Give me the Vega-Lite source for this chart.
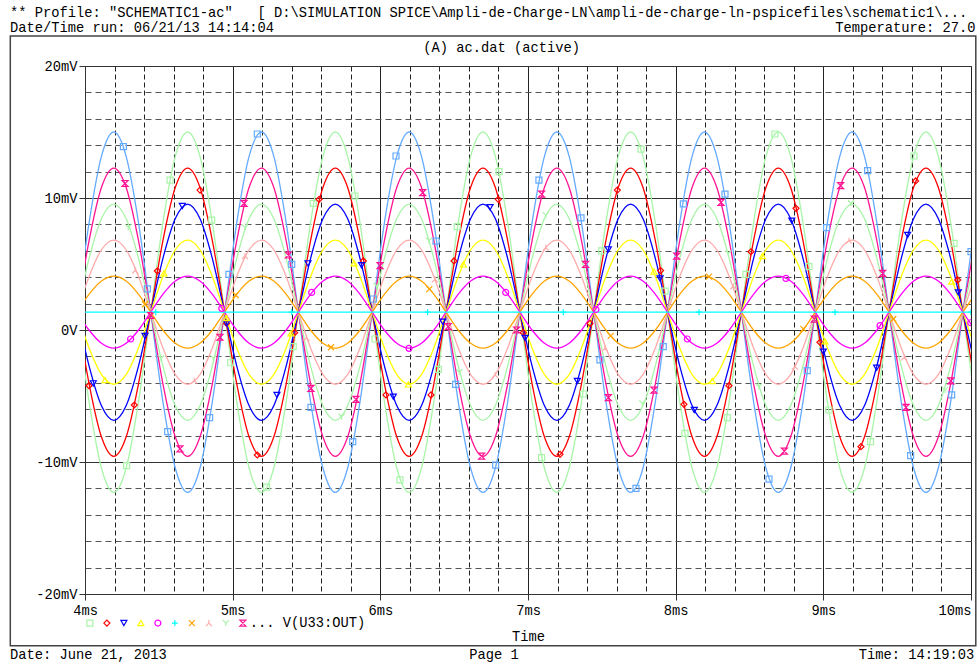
{
  "$schema": "https://vega.github.io/schema/vega-lite/v6.json",
  "width": 886,
  "height": 528,
  "autosize": {"type": "none"},
  "padding": {"left": 85, "top": 66, "right": 7, "bottom": 69},
  "background": "white",
  "config": {
    "font": "Liberation Mono",
    "view": {"stroke": "#333", "strokeWidth": 1},
    "axis": {
      "labelFont": "Liberation Mono",
      "labelFontSize": 13.75,
      "labelColor": "#000",
      "titleFont": "Liberation Mono",
      "titleFontSize": 13.75,
      "titleFontWeight": "normal",
      "titleColor": "#000",
      "domainColor": "#333",
      "labelOverlap": false
    },
    "legend": {
      "labelFont": "Liberation Mono",
      "labelFontSize": 13.75,
      "labelColor": "#000"
    },
    "text": {"font": "Liberation Mono", "fontSize": 13.75, "color": "#000"}
  },
  "resolve": {"axis": {"x": "independent", "y": "independent"}},
  "datasets": {
    "wave": [
      {"t": 3.945, "lb": 1.35, "lg1": 1.35, "rd": 1.35, "dp": 1.35, "lg2": 1.35, "bl": 1.35, "ye": 1.35, "sa": 1.35, "or": 1.35, "mg": 1.35, "cy": 1.35},
      {"t": 4.0283, "lb": 8.18, "lg1": -5.48, "rd": -4.11, "dp": 6.81, "lg2": 5.45, "bl": -2.75, "ye": -1.38, "sa": 4.08, "or": 2.72, "mg": -0.02, "cy": 1.35},
      {"t": 4.1117, "lb": 13.17, "lg1": -10.47, "rd": -8.11, "dp": 10.81, "lg2": 8.44, "bl": -5.74, "ye": -3.38, "sa": 6.08, "or": 3.71, "mg": -1.01, "cy": 1.35},
      {"t": 4.195, "lb": 15, "lg1": -12.3, "rd": -9.57, "dp": 12.27, "lg2": 9.54, "bl": -6.84, "ye": -4.11, "sa": 6.81, "or": 4.08, "mg": -1.38, "cy": 1.35},
      {"t": 4.2783, "lb": 13.17, "lg1": -10.47, "rd": -8.11, "dp": 10.81, "lg2": 8.44, "bl": -5.74, "ye": -3.38, "sa": 6.08, "or": 3.71, "mg": -1.01, "cy": 1.35},
      {"t": 4.3617, "lb": 8.18, "lg1": -5.48, "rd": -4.11, "dp": 6.81, "lg2": 5.45, "bl": -2.75, "ye": -1.38, "sa": 4.08, "or": 2.72, "mg": -0.02, "cy": 1.35},
      {"t": 4.445, "lb": 1.35, "lg1": 1.35, "rd": 1.35, "dp": 1.35, "lg2": 1.35, "bl": 1.35, "ye": 1.35, "sa": 1.35, "or": 1.35, "mg": 1.35, "cy": 1.35},
      {"t": 4.5283, "lb": -5.48, "lg1": 8.18, "rd": 6.81, "dp": -4.11, "lg2": -2.75, "bl": 5.45, "ye": 4.08, "sa": -1.38, "or": -0.02, "mg": 2.72, "cy": 1.35},
      {"t": 4.6117, "lb": -10.47, "lg1": 13.17, "rd": 10.81, "dp": -8.11, "lg2": -5.74, "bl": 8.44, "ye": 6.08, "sa": -3.38, "or": -1.01, "mg": 3.71, "cy": 1.35},
      {"t": 4.695, "lb": -12.3, "lg1": 15, "rd": 12.27, "dp": -9.57, "lg2": -6.84, "bl": 9.54, "ye": 6.81, "sa": -4.11, "or": -1.38, "mg": 4.08, "cy": 1.35},
      {"t": 4.7783, "lb": -10.47, "lg1": 13.17, "rd": 10.81, "dp": -8.11, "lg2": -5.74, "bl": 8.44, "ye": 6.08, "sa": -3.38, "or": -1.01, "mg": 3.71, "cy": 1.35},
      {"t": 4.8617, "lb": -5.48, "lg1": 8.18, "rd": 6.81, "dp": -4.11, "lg2": -2.75, "bl": 5.45, "ye": 4.08, "sa": -1.38, "or": -0.02, "mg": 2.72, "cy": 1.35},
      {"t": 4.945, "lb": 1.35, "lg1": 1.35, "rd": 1.35, "dp": 1.35, "lg2": 1.35, "bl": 1.35, "ye": 1.35, "sa": 1.35, "or": 1.35, "mg": 1.35, "cy": 1.35},
      {"t": 5.0283, "lb": 8.18, "lg1": -5.48, "rd": -4.11, "dp": 6.81, "lg2": 5.45, "bl": -2.75, "ye": -1.38, "sa": 4.08, "or": 2.72, "mg": -0.02, "cy": 1.35},
      {"t": 5.1117, "lb": 13.17, "lg1": -10.47, "rd": -8.11, "dp": 10.81, "lg2": 8.44, "bl": -5.74, "ye": -3.38, "sa": 6.08, "or": 3.71, "mg": -1.01, "cy": 1.35},
      {"t": 5.195, "lb": 15, "lg1": -12.3, "rd": -9.57, "dp": 12.27, "lg2": 9.54, "bl": -6.84, "ye": -4.11, "sa": 6.81, "or": 4.08, "mg": -1.38, "cy": 1.35},
      {"t": 5.2783, "lb": 13.17, "lg1": -10.47, "rd": -8.11, "dp": 10.81, "lg2": 8.44, "bl": -5.74, "ye": -3.38, "sa": 6.08, "or": 3.71, "mg": -1.01, "cy": 1.35},
      {"t": 5.3617, "lb": 8.18, "lg1": -5.48, "rd": -4.11, "dp": 6.81, "lg2": 5.45, "bl": -2.75, "ye": -1.38, "sa": 4.08, "or": 2.72, "mg": -0.02, "cy": 1.35},
      {"t": 5.445, "lb": 1.35, "lg1": 1.35, "rd": 1.35, "dp": 1.35, "lg2": 1.35, "bl": 1.35, "ye": 1.35, "sa": 1.35, "or": 1.35, "mg": 1.35, "cy": 1.35},
      {"t": 5.5283, "lb": -5.48, "lg1": 8.18, "rd": 6.81, "dp": -4.11, "lg2": -2.75, "bl": 5.45, "ye": 4.08, "sa": -1.38, "or": -0.02, "mg": 2.72, "cy": 1.35},
      {"t": 5.6117, "lb": -10.47, "lg1": 13.17, "rd": 10.81, "dp": -8.11, "lg2": -5.74, "bl": 8.44, "ye": 6.08, "sa": -3.38, "or": -1.01, "mg": 3.71, "cy": 1.35},
      {"t": 5.695, "lb": -12.3, "lg1": 15, "rd": 12.27, "dp": -9.57, "lg2": -6.84, "bl": 9.54, "ye": 6.81, "sa": -4.11, "or": -1.38, "mg": 4.08, "cy": 1.35},
      {"t": 5.7783, "lb": -10.47, "lg1": 13.17, "rd": 10.81, "dp": -8.11, "lg2": -5.74, "bl": 8.44, "ye": 6.08, "sa": -3.38, "or": -1.01, "mg": 3.71, "cy": 1.35},
      {"t": 5.8617, "lb": -5.48, "lg1": 8.18, "rd": 6.81, "dp": -4.11, "lg2": -2.75, "bl": 5.45, "ye": 4.08, "sa": -1.38, "or": -0.02, "mg": 2.72, "cy": 1.35},
      {"t": 5.945, "lb": 1.35, "lg1": 1.35, "rd": 1.35, "dp": 1.35, "lg2": 1.35, "bl": 1.35, "ye": 1.35, "sa": 1.35, "or": 1.35, "mg": 1.35, "cy": 1.35},
      {"t": 6.0283, "lb": 8.18, "lg1": -5.48, "rd": -4.11, "dp": 6.81, "lg2": 5.45, "bl": -2.75, "ye": -1.38, "sa": 4.08, "or": 2.72, "mg": -0.02, "cy": 1.35},
      {"t": 6.1117, "lb": 13.17, "lg1": -10.47, "rd": -8.11, "dp": 10.81, "lg2": 8.44, "bl": -5.74, "ye": -3.38, "sa": 6.08, "or": 3.71, "mg": -1.01, "cy": 1.35},
      {"t": 6.195, "lb": 15, "lg1": -12.3, "rd": -9.57, "dp": 12.27, "lg2": 9.54, "bl": -6.84, "ye": -4.11, "sa": 6.81, "or": 4.08, "mg": -1.38, "cy": 1.35},
      {"t": 6.2783, "lb": 13.17, "lg1": -10.47, "rd": -8.11, "dp": 10.81, "lg2": 8.44, "bl": -5.74, "ye": -3.38, "sa": 6.08, "or": 3.71, "mg": -1.01, "cy": 1.35},
      {"t": 6.3617, "lb": 8.18, "lg1": -5.48, "rd": -4.11, "dp": 6.81, "lg2": 5.45, "bl": -2.75, "ye": -1.38, "sa": 4.08, "or": 2.72, "mg": -0.02, "cy": 1.35},
      {"t": 6.445, "lb": 1.35, "lg1": 1.35, "rd": 1.35, "dp": 1.35, "lg2": 1.35, "bl": 1.35, "ye": 1.35, "sa": 1.35, "or": 1.35, "mg": 1.35, "cy": 1.35},
      {"t": 6.5283, "lb": -5.48, "lg1": 8.18, "rd": 6.81, "dp": -4.11, "lg2": -2.75, "bl": 5.45, "ye": 4.08, "sa": -1.38, "or": -0.02, "mg": 2.72, "cy": 1.35},
      {"t": 6.6117, "lb": -10.47, "lg1": 13.17, "rd": 10.81, "dp": -8.11, "lg2": -5.74, "bl": 8.44, "ye": 6.08, "sa": -3.38, "or": -1.01, "mg": 3.71, "cy": 1.35},
      {"t": 6.695, "lb": -12.3, "lg1": 15, "rd": 12.27, "dp": -9.57, "lg2": -6.84, "bl": 9.54, "ye": 6.81, "sa": -4.11, "or": -1.38, "mg": 4.08, "cy": 1.35},
      {"t": 6.7783, "lb": -10.47, "lg1": 13.17, "rd": 10.81, "dp": -8.11, "lg2": -5.74, "bl": 8.44, "ye": 6.08, "sa": -3.38, "or": -1.01, "mg": 3.71, "cy": 1.35},
      {"t": 6.8617, "lb": -5.48, "lg1": 8.18, "rd": 6.81, "dp": -4.11, "lg2": -2.75, "bl": 5.45, "ye": 4.08, "sa": -1.38, "or": -0.02, "mg": 2.72, "cy": 1.35},
      {"t": 6.945, "lb": 1.35, "lg1": 1.35, "rd": 1.35, "dp": 1.35, "lg2": 1.35, "bl": 1.35, "ye": 1.35, "sa": 1.35, "or": 1.35, "mg": 1.35, "cy": 1.35},
      {"t": 7.0283, "lb": 8.18, "lg1": -5.48, "rd": -4.11, "dp": 6.81, "lg2": 5.45, "bl": -2.75, "ye": -1.38, "sa": 4.08, "or": 2.72, "mg": -0.02, "cy": 1.35},
      {"t": 7.1117, "lb": 13.17, "lg1": -10.47, "rd": -8.11, "dp": 10.81, "lg2": 8.44, "bl": -5.74, "ye": -3.38, "sa": 6.08, "or": 3.71, "mg": -1.01, "cy": 1.35},
      {"t": 7.195, "lb": 15, "lg1": -12.3, "rd": -9.57, "dp": 12.27, "lg2": 9.54, "bl": -6.84, "ye": -4.11, "sa": 6.81, "or": 4.08, "mg": -1.38, "cy": 1.35},
      {"t": 7.2783, "lb": 13.17, "lg1": -10.47, "rd": -8.11, "dp": 10.81, "lg2": 8.44, "bl": -5.74, "ye": -3.38, "sa": 6.08, "or": 3.71, "mg": -1.01, "cy": 1.35},
      {"t": 7.3617, "lb": 8.18, "lg1": -5.48, "rd": -4.11, "dp": 6.81, "lg2": 5.45, "bl": -2.75, "ye": -1.38, "sa": 4.08, "or": 2.72, "mg": -0.02, "cy": 1.35},
      {"t": 7.445, "lb": 1.35, "lg1": 1.35, "rd": 1.35, "dp": 1.35, "lg2": 1.35, "bl": 1.35, "ye": 1.35, "sa": 1.35, "or": 1.35, "mg": 1.35, "cy": 1.35},
      {"t": 7.5283, "lb": -5.48, "lg1": 8.18, "rd": 6.81, "dp": -4.11, "lg2": -2.75, "bl": 5.45, "ye": 4.08, "sa": -1.38, "or": -0.02, "mg": 2.72, "cy": 1.35},
      {"t": 7.6117, "lb": -10.47, "lg1": 13.17, "rd": 10.81, "dp": -8.11, "lg2": -5.74, "bl": 8.44, "ye": 6.08, "sa": -3.38, "or": -1.01, "mg": 3.71, "cy": 1.35},
      {"t": 7.695, "lb": -12.3, "lg1": 15, "rd": 12.27, "dp": -9.57, "lg2": -6.84, "bl": 9.54, "ye": 6.81, "sa": -4.11, "or": -1.38, "mg": 4.08, "cy": 1.35},
      {"t": 7.7783, "lb": -10.47, "lg1": 13.17, "rd": 10.81, "dp": -8.11, "lg2": -5.74, "bl": 8.44, "ye": 6.08, "sa": -3.38, "or": -1.01, "mg": 3.71, "cy": 1.35},
      {"t": 7.8617, "lb": -5.48, "lg1": 8.18, "rd": 6.81, "dp": -4.11, "lg2": -2.75, "bl": 5.45, "ye": 4.08, "sa": -1.38, "or": -0.02, "mg": 2.72, "cy": 1.35},
      {"t": 7.945, "lb": 1.35, "lg1": 1.35, "rd": 1.35, "dp": 1.35, "lg2": 1.35, "bl": 1.35, "ye": 1.35, "sa": 1.35, "or": 1.35, "mg": 1.35, "cy": 1.35},
      {"t": 8.0283, "lb": 8.18, "lg1": -5.48, "rd": -4.11, "dp": 6.81, "lg2": 5.45, "bl": -2.75, "ye": -1.38, "sa": 4.08, "or": 2.72, "mg": -0.02, "cy": 1.35},
      {"t": 8.1117, "lb": 13.17, "lg1": -10.47, "rd": -8.11, "dp": 10.81, "lg2": 8.44, "bl": -5.74, "ye": -3.38, "sa": 6.08, "or": 3.71, "mg": -1.01, "cy": 1.35},
      {"t": 8.195, "lb": 15, "lg1": -12.3, "rd": -9.57, "dp": 12.27, "lg2": 9.54, "bl": -6.84, "ye": -4.11, "sa": 6.81, "or": 4.08, "mg": -1.38, "cy": 1.35},
      {"t": 8.2783, "lb": 13.17, "lg1": -10.47, "rd": -8.11, "dp": 10.81, "lg2": 8.44, "bl": -5.74, "ye": -3.38, "sa": 6.08, "or": 3.71, "mg": -1.01, "cy": 1.35},
      {"t": 8.3617, "lb": 8.18, "lg1": -5.48, "rd": -4.11, "dp": 6.81, "lg2": 5.45, "bl": -2.75, "ye": -1.38, "sa": 4.08, "or": 2.72, "mg": -0.02, "cy": 1.35},
      {"t": 8.445, "lb": 1.35, "lg1": 1.35, "rd": 1.35, "dp": 1.35, "lg2": 1.35, "bl": 1.35, "ye": 1.35, "sa": 1.35, "or": 1.35, "mg": 1.35, "cy": 1.35},
      {"t": 8.5283, "lb": -5.48, "lg1": 8.18, "rd": 6.81, "dp": -4.11, "lg2": -2.75, "bl": 5.45, "ye": 4.08, "sa": -1.38, "or": -0.02, "mg": 2.72, "cy": 1.35},
      {"t": 8.6117, "lb": -10.47, "lg1": 13.17, "rd": 10.81, "dp": -8.11, "lg2": -5.74, "bl": 8.44, "ye": 6.08, "sa": -3.38, "or": -1.01, "mg": 3.71, "cy": 1.35},
      {"t": 8.695, "lb": -12.3, "lg1": 15, "rd": 12.27, "dp": -9.57, "lg2": -6.84, "bl": 9.54, "ye": 6.81, "sa": -4.11, "or": -1.38, "mg": 4.08, "cy": 1.35},
      {"t": 8.7783, "lb": -10.47, "lg1": 13.17, "rd": 10.81, "dp": -8.11, "lg2": -5.74, "bl": 8.44, "ye": 6.08, "sa": -3.38, "or": -1.01, "mg": 3.71, "cy": 1.35},
      {"t": 8.8617, "lb": -5.48, "lg1": 8.18, "rd": 6.81, "dp": -4.11, "lg2": -2.75, "bl": 5.45, "ye": 4.08, "sa": -1.38, "or": -0.02, "mg": 2.72, "cy": 1.35},
      {"t": 8.945, "lb": 1.35, "lg1": 1.35, "rd": 1.35, "dp": 1.35, "lg2": 1.35, "bl": 1.35, "ye": 1.35, "sa": 1.35, "or": 1.35, "mg": 1.35, "cy": 1.35},
      {"t": 9.0283, "lb": 8.18, "lg1": -5.48, "rd": -4.11, "dp": 6.81, "lg2": 5.45, "bl": -2.75, "ye": -1.38, "sa": 4.08, "or": 2.72, "mg": -0.02, "cy": 1.35},
      {"t": 9.1117, "lb": 13.17, "lg1": -10.47, "rd": -8.11, "dp": 10.81, "lg2": 8.44, "bl": -5.74, "ye": -3.38, "sa": 6.08, "or": 3.71, "mg": -1.01, "cy": 1.35},
      {"t": 9.195, "lb": 15, "lg1": -12.3, "rd": -9.57, "dp": 12.27, "lg2": 9.54, "bl": -6.84, "ye": -4.11, "sa": 6.81, "or": 4.08, "mg": -1.38, "cy": 1.35},
      {"t": 9.2783, "lb": 13.17, "lg1": -10.47, "rd": -8.11, "dp": 10.81, "lg2": 8.44, "bl": -5.74, "ye": -3.38, "sa": 6.08, "or": 3.71, "mg": -1.01, "cy": 1.35},
      {"t": 9.3617, "lb": 8.18, "lg1": -5.48, "rd": -4.11, "dp": 6.81, "lg2": 5.45, "bl": -2.75, "ye": -1.38, "sa": 4.08, "or": 2.72, "mg": -0.02, "cy": 1.35},
      {"t": 9.445, "lb": 1.35, "lg1": 1.35, "rd": 1.35, "dp": 1.35, "lg2": 1.35, "bl": 1.35, "ye": 1.35, "sa": 1.35, "or": 1.35, "mg": 1.35, "cy": 1.35},
      {"t": 9.5283, "lb": -5.48, "lg1": 8.18, "rd": 6.81, "dp": -4.11, "lg2": -2.75, "bl": 5.45, "ye": 4.08, "sa": -1.38, "or": -0.02, "mg": 2.72, "cy": 1.35},
      {"t": 9.6117, "lb": -10.47, "lg1": 13.17, "rd": 10.81, "dp": -8.11, "lg2": -5.74, "bl": 8.44, "ye": 6.08, "sa": -3.38, "or": -1.01, "mg": 3.71, "cy": 1.35},
      {"t": 9.695, "lb": -12.3, "lg1": 15, "rd": 12.27, "dp": -9.57, "lg2": -6.84, "bl": 9.54, "ye": 6.81, "sa": -4.11, "or": -1.38, "mg": 4.08, "cy": 1.35},
      {"t": 9.7783, "lb": -10.47, "lg1": 13.17, "rd": 10.81, "dp": -8.11, "lg2": -5.74, "bl": 8.44, "ye": 6.08, "sa": -3.38, "or": -1.01, "mg": 3.71, "cy": 1.35},
      {"t": 9.8617, "lb": -5.48, "lg1": 8.18, "rd": 6.81, "dp": -4.11, "lg2": -2.75, "bl": 5.45, "ye": 4.08, "sa": -1.38, "or": -0.02, "mg": 2.72, "cy": 1.35},
      {"t": 9.945, "lb": 1.35, "lg1": 1.35, "rd": 1.35, "dp": 1.35, "lg2": 1.35, "bl": 1.35, "ye": 1.35, "sa": 1.35, "or": 1.35, "mg": 1.35, "cy": 1.35},
      {"t": 10.0283, "lb": 8.18, "lg1": -5.48, "rd": -4.11, "dp": 6.81, "lg2": 5.45, "bl": -2.75, "ye": -1.38, "sa": 4.08, "or": 2.72, "mg": -0.02, "cy": 1.35}
    ],
    "markers": [
      {"t": 4.26, "v": 13.89, "s": "lb"}, {"t": 4.422, "v": 3.11, "s": "lb"}, {"t": 4.56, "v": -7.7, "s": "lb"}, {"t": 4.844, "v": -6.64, "s": "lb"},
      {"t": 4.975, "v": 4.22, "s": "lb"}, {"t": 5.167, "v": 14.85, "s": "lb"}, {"t": 5.4, "v": 4.97, "s": "lb"}, {"t": 5.53, "v": -5.86, "s": "lb"},
      {"t": 5.813, "v": -8.46, "s": "lb"}, {"t": 5.953, "v": 2.35, "s": "lb"}, {"t": 6.106, "v": 13.18, "s": "lb"}, {"t": 6.377, "v": 6.74, "s": "lb"},
      {"t": 6.51, "v": -4.12, "s": "lb"}, {"t": 6.781, "v": -10.23, "s": "lb"}, {"t": 7.074, "v": 11.36, "s": "lb"}, {"t": 7.359, "v": 8.5, "s": "lb"},
      {"t": 7.487, "v": -2.27, "s": "lb"}, {"t": 7.731, "v": -12.0, "s": "lb"}, {"t": 7.916, "v": -1.26, "s": "lb"}, {"t": 8.052, "v": 9.55, "s": "lb"},
      {"t": 8.334, "v": 10.3, "s": "lb"}, {"t": 8.632, "v": -11.29, "s": "lb"}, {"t": 8.891, "v": -3.08, "s": "lb"}, {"t": 9.022, "v": 7.75, "s": "lb"},
      {"t": 9.3, "v": 12.07, "s": "lb"}, {"t": 9.591, "v": -9.52, "s": "lb"}, {"t": 9.869, "v": -4.92, "s": "lb"}, {"t": 10.0, "v": 5.93, "s": "lb"},
      {"t": 4.282, "v": -10.28, "s": "lg1"}, {"t": 4.576, "v": 11.36, "s": "lg1"}, {"t": 4.858, "v": 8.33, "s": "lg1"}, {"t": 4.986, "v": -2.48, "s": "lg1"},
      {"t": 5.23, "v": -11.9, "s": "lg1"}, {"t": 5.41, "v": -1.26, "s": "lg1"}, {"t": 5.546, "v": 9.6, "s": "lg1"}, {"t": 5.828, "v": 10.15, "s": "lg1"},
      {"t": 5.964, "v": -0.68, "s": "lg1"}, {"t": 6.133, "v": -11.36, "s": "lg1"}, {"t": 6.393, "v": -2.98, "s": "lg1"}, {"t": 6.521, "v": 7.83, "s": "lg1"},
      {"t": 6.804, "v": 12.0, "s": "lg1"}, {"t": 7.092, "v": -9.67, "s": "lg1"}, {"t": 7.375, "v": -4.85, "s": "lg1"}, {"t": 7.499, "v": 6.0, "s": "lg1"},
      {"t": 7.765, "v": 13.7, "s": "lg1"}, {"t": 7.928, "v": 2.95, "s": "lg1"}, {"t": 8.063, "v": -7.83, "s": "lg1"}, {"t": 8.35, "v": -6.64, "s": "lg1"},
      {"t": 8.476, "v": 4.22, "s": "lg1"}, {"t": 8.672, "v": 14.85, "s": "lg1"}, {"t": 8.903, "v": 4.8, "s": "lg1"}, {"t": 9.038, "v": -6.06, "s": "lg1"},
      {"t": 9.32, "v": -8.46, "s": "lg1"}, {"t": 9.614, "v": 13.18, "s": "lg1"}, {"t": 9.885, "v": 6.57, "s": "lg1"},
      {"t": 4.271, "v": 11.1, "s": "dp"}, {"t": 4.445, "v": 1.1, "s": "dp"}, {"t": 4.643, "v": -9.0, "s": "dp"}, {"t": 4.914, "v": -0.55, "s": "dp"},
      {"t": 5.077, "v": 9.6, "s": "dp"}, {"t": 5.377, "v": 5.68, "s": "dp"}, {"t": 5.53, "v": -4.42, "s": "dp"}, {"t": 5.835, "v": -5.25, "s": "dp"},
      {"t": 5.998, "v": 4.87, "s": "dp"}, {"t": 6.287, "v": 10.4, "s": "dp"}, {"t": 6.46, "v": 0.25, "s": "dp"}, {"t": 6.686, "v": -9.55, "s": "dp"},
      {"t": 6.923, "v": 0.0, "s": "dp"}, {"t": 7.092, "v": 10.3, "s": "dp"}, {"t": 7.39, "v": 4.97, "s": "dp"}, {"t": 7.544, "v": -5.13, "s": "dp"},
      {"t": 7.853, "v": -4.55, "s": "dp"}, {"t": 8.007, "v": 5.6, "s": "dp"}, {"t": 8.307, "v": 9.67, "s": "dp"}, {"t": 8.736, "v": -9.17, "s": "dp"},
      {"t": 8.939, "v": 0.83, "s": "dp"}, {"t": 9.117, "v": 10.93, "s": "dp"}, {"t": 9.402, "v": 4.29, "s": "dp"}, {"t": 9.56, "v": -5.86, "s": "dp"},
      {"t": 9.864, "v": -3.86, "s": "dp"},
      {"t": 4.027, "v": -4.22, "s": "rd"}, {"t": 4.334, "v": -5.68, "s": "rd"}, {"t": 4.49, "v": 4.47, "s": "rd"}, {"t": 4.779, "v": 10.6, "s": "rd"},
      {"t": 4.959, "v": 0.5, "s": "rd"}, {"t": 5.167, "v": -9.47, "s": "rd"}, {"t": 5.42, "v": -0.2, "s": "rd"}, {"t": 5.585, "v": 9.9, "s": "rd"},
      {"t": 5.885, "v": 5.23, "s": "rd"}, {"t": 6.038, "v": -4.92, "s": "rd"}, {"t": 6.343, "v": -4.92, "s": "rd"}, {"t": 6.499, "v": 5.23, "s": "rd"},
      {"t": 6.799, "v": 9.9, "s": "rd"}, {"t": 6.968, "v": -0.2, "s": "rd"}, {"t": 7.217, "v": -9.42, "s": "rd"}, {"t": 7.42, "v": 0.5, "s": "rd"},
      {"t": 7.605, "v": 10.6, "s": "rd"}, {"t": 7.898, "v": 4.5, "s": "rd"}, {"t": 8.056, "v": -5.63, "s": "rd"}, {"t": 8.361, "v": -4.22, "s": "rd"},
      {"t": 8.51, "v": 5.93, "s": "rd"}, {"t": 8.815, "v": 9.22, "s": "rd"}, {"t": 8.977, "v": -0.93, "s": "rd"}, {"t": 9.255, "v": -8.84, "s": "rd"},
      {"t": 9.625, "v": 11.29, "s": "rd"}, {"t": 9.91, "v": 3.79, "s": "rd"},
      {"t": 4.056, "v": -4.04, "s": "bl"}, {"t": 4.406, "v": -0.45, "s": "bl"}, {"t": 4.659, "v": 9.39, "s": "bl"}, {"t": 4.959, "v": 0.5, "s": "bl"},
      {"t": 5.3, "v": -4.92, "s": "bl"}, {"t": 5.51, "v": 5.05, "s": "bl"}, {"t": 5.873, "v": 4.9, "s": "bl"}, {"t": 6.088, "v": -5.05, "s": "bl"},
      {"t": 6.422, "v": 0.63, "s": "bl"}, {"t": 6.743, "v": 9.3, "s": "bl"}, {"t": 6.98, "v": -0.6, "s": "bl"}, {"t": 7.334, "v": -3.86, "s": "bl"},
      {"t": 7.544, "v": 6.11, "s": "bl"}, {"t": 7.894, "v": 3.91, "s": "bl"}, {"t": 8.126, "v": -6.06, "s": "bl"}, {"t": 8.786, "v": 8.28, "s": "bl"},
      {"t": 9.0, "v": -1.64, "s": "bl"}, {"t": 9.361, "v": -2.86, "s": "bl"}, {"t": 9.571, "v": 7.2, "s": "bl"}, {"t": 9.914, "v": 2.85, "s": "bl"},
      {"t": 4.135, "v": -3.79, "s": "ye"}, {"t": 4.535, "v": 4.29, "s": "ye"}, {"t": 4.959, "v": 0.9, "s": "ye"}, {"t": 5.395, "v": -0.25, "s": "ye"},
      {"t": 5.822, "v": 5.05, "s": "ye"}, {"t": 6.19, "v": -4.12, "s": "ye"}, {"t": 6.562, "v": 4.97, "s": "ye"}, {"t": 7.853, "v": 4.42, "s": "ye"},
      {"t": 8.248, "v": -3.86, "s": "ye"}, {"t": 8.587, "v": 5.6, "s": "ye"}, {"t": 9.011, "v": -0.86, "s": "ye"}, {"t": 9.869, "v": 3.67, "s": "ye"},
      {"t": 4.309, "v": -0.68, "s": "mg"}, {"t": 4.926, "v": 1.64, "s": "mg"}, {"t": 5.535, "v": 2.85, "s": "mg"}, {"t": 6.194, "v": -1.39, "s": "mg"},
      {"t": 6.849, "v": 2.85, "s": "mg"}, {"t": 7.46, "v": 1.55, "s": "mg"}, {"t": 8.079, "v": -0.68, "s": "mg"}, {"t": 8.747, "v": 3.91, "s": "mg"},
      {"t": 9.384, "v": 0.33, "s": "mg"}, {"t": 9.998, "v": 0.55, "s": "mg"},
      {"t": 4.406, "v": 1.95, "s": "or"}, {"t": 5.02, "v": 2.65, "s": "or"}, {"t": 5.666, "v": -1.31, "s": "or"}, {"t": 6.332, "v": 3.1, "s": "or"},
      {"t": 7.56, "v": -0.45, "s": "or"}, {"t": 8.226, "v": 4.04, "s": "or"}, {"t": 8.864, "v": 0.08, "s": "or"}, {"t": 9.474, "v": 0.83, "s": "or"},
      {"t": 4.339, "v": 4.5, "s": "sa"}, {"t": 4.74, "v": -3.84, "s": "sa"}, {"t": 5.083, "v": 5.6, "s": "sa"}, {"t": 5.5, "v": -0.6, "s": "sa"},
      {"t": 6.37, "v": 3.84, "s": "sa"}, {"t": 6.777, "v": -3.4, "s": "sa"}, {"t": 7.12, "v": 6.24, "s": "sa"}, {"t": 7.521, "v": -1.39, "s": "sa"},
      {"t": 8.39, "v": 3.3, "s": "sa"}, {"t": 8.808, "v": -2.78, "s": "sa"}, {"t": 9.174, "v": 6.77, "s": "sa"}, {"t": 9.548, "v": -2.07, "s": "sa"},
      {"t": 4.293, "v": 7.78, "s": "lg2"}, {"t": 4.515, "v": -2.15, "s": "lg2"}, {"t": 4.869, "v": -2.15, "s": "lg2"}, {"t": 5.083, "v": 7.78, "s": "lg2"},
      {"t": 5.738, "v": -6.57, "s": "lg2"}, {"t": 5.975, "v": 3.33, "s": "lg2"}, {"t": 6.33, "v": 6.77, "s": "lg2"}, {"t": 6.535, "v": -3.2, "s": "lg2"},
      {"t": 7.12, "v": 8.7, "s": "lg2"}, {"t": 7.774, "v": -5.56, "s": "lg2"}, {"t": 8.357, "v": 5.8, "s": "lg2"}, {"t": 8.564, "v": -4.29, "s": "lg2"},
      {"t": 9.187, "v": 9.6, "s": "lg2"}, {"t": 9.824, "v": -4.55, "s": "lg2"},
      {"t": 4.479, "v": 1.35, "s": "cy"}, {"t": 5.4, "v": 1.35, "s": "cy"}, {"t": 6.32, "v": 1.35, "s": "cy"}, {"t": 7.239, "v": 1.35, "s": "cy"},
      {"t": 8.158, "v": 1.35, "s": "cy"}, {"t": 9.079, "v": 1.35, "s": "cy"}, {"t": 10.0, "v": 1.35, "s": "cy"}
    ]
  },
  "layer": [
    {
      "data": {"values": [{}]},
      "mark": {"type": "rect", "fill": "white", "fillOpacity": 0, "stroke": "#444", "strokeWidth": 1.5},
      "encoding": {
        "x": {"datum": 3.4941, "axis": null},
        "x2": {"datum": 10.0325},
        "y": {"datum": 22.273, "axis": null},
        "y2": {"datum": -23.917}
      }
    },
    {
      "data": {"name": "wave"},
      "transform": [
        {"fold": ["lb", "lg1", "rd", "dp", "lg2", "bl", "ye", "sa", "or", "mg", "cy"], "as": ["s", "v"]}
      ],
      "mark": {"type": "line", "interpolate": "monotone", "strokeWidth": 1.3, "clip": true},
      "encoding": {
        "x": {
          "field": "t",
          "type": "quantitative",
          "scale": {"domain": [4, 10], "nice": false, "zero": false},
          "axis": {
            "values": [4, 4.2, 4.4, 4.6, 4.8, 5, 5.2, 5.4, 5.6, 5.8, 6, 6.2, 6.4, 6.6, 6.8, 7, 7.2, 7.4, 7.6, 7.8, 8, 8.2, 8.4, 8.6, 8.8, 9, 9.2, 9.4, 9.6, 9.8, 10],
            "labelExpr": "datum.value % 1 === 0 ? datum.value + 'ms' : ''",
            "labelAlign": {"condition": {"test": "datum.value === 10", "value": "right"}, "value": "center"},
            "labelPadding": 3,
            "title": "Time",
            "titlePadding": 13,
            "grid": true,
            "gridColor": "#222",
            "gridWidth": 1,
            "gridDash": {"condition": {"test": "datum.value % 1 === 0", "value": []}, "value": [5, 3]},
            "tickSize": 6,
            "tickColor": {"condition": {"test": "datum.value % 1 === 0", "value": "#333"}, "value": "transparent"}
          }
        },
        "y": {
          "field": "v",
          "type": "quantitative",
          "scale": {"domain": [-20, 20], "nice": false, "zero": false},
          "axis": {
            "values": [-20, -18, -16, -14, -12, -10, -8, -6, -4, -2, 0, 2, 4, 6, 8, 10, 12, 14, 16, 18, 20],
            "labelExpr": "datum.value === 0 ? '0V' : (datum.value % 10 === 0 ? datum.value + 'mV' : '')",
            "labelPadding": 2,
            "title": null,
            "grid": true,
            "gridColor": {"condition": {"test": "datum.value % 10 === 0", "value": "#333"}, "value": "#555"},
            "gridWidth": 1,
            "gridDash": {"condition": {"test": "datum.value % 10 === 0", "value": []}, "value": [6, 4]},
            "tickSize": 6,
            "tickColor": {"condition": {"test": "datum.value % 10 === 0", "value": "#333"}, "value": "transparent"}
          }
        },
        "color": {
          "field": "s",
          "type": "nominal",
          "scale": {
            "domain": ["lg1", "rd", "bl", "ye", "mg", "cy", "or", "sa", "lg2", "dp", "lb"],
            "range": ["#a8f5a8", "#ff0000", "#0000ff", "#ffff00", "#ff00ff", "#00ffff", "#ffa500", "#ffaaaa", "#a8f5a8", "#ff1493", "#64aaff"]
          },
          "legend": {
            "orient": "none",
            "legendX": -2,
            "legendY": 550,
            "direction": "horizontal",
            "columns": 11,
            "title": null,
            "labelExpr": "datum.value === 'dp' ? '\u00a0\u00a0... V(U33:OUT)' : ''",
            "labelLimit": 300,
            "labelOffset": 0,
            "columnPadding": 3,
            "symbolSize": 36,
            "symbolStrokeWidth": 1.2,
            "encode": {"symbols": {"update": {"opacity": {"signal": "datum.value === 'lb' ? 0 : 1"}}}}
          }
        }
      }
    },
    {
      "data": {"name": "markers"},
      "mark": {"type": "point", "filled": false, "size": 36, "strokeWidth": 1.2, "opacity": 1, "clip": true},
      "encoding": {
        "x": {"field": "t", "type": "quantitative", "axis": null},
        "y": {"field": "v", "type": "quantitative", "axis": null},
        "color": {"field": "s", "type": "nominal"},
        "shape": {
          "field": "s",
          "type": "nominal",
          "scale": {
            "domain": ["lg1", "rd", "bl", "ye", "mg", "cy", "or", "sa", "lg2", "dp", "lb"],
            "range": ["square", "diamond", "triangle-down", "triangle-up", "circle", "M-1,0L1,0M0,-1L0,1", "M-1,-1L1,1M-1,1L1,-1", "M0,-1L0,0M0,0L-1,1M0,0L1,1", "M-1,-1L0,0L1,-1M0,0L0,1", "M-1,-1L1,-1L-1,1L1,1Z", "square"]
          }
        }
      }
    },
    {
      "data": {"values": [{}]},
      "mark": {"type": "text", "align": "left", "baseline": "alphabetic"},
      "encoding": {
        "x": {"datum": 3.4921, "axis": null},
        "y": {"datum": 23.735, "axis": null},
        "text": {"value": "** Profile: \"SCHEMATIC1-ac\" \u00a0\u00a0[ D:\\SIMULATION SPICE\\Ampli-de-Charge-LN\\ampli-de-charge-ln-pspicefiles\\schematic1\\..."}
      }
    },
    {
      "data": {"values": [{}]},
      "mark": {"type": "text", "align": "left", "baseline": "alphabetic"},
      "encoding": {
        "x": {"datum": 3.4921, "axis": null},
        "y": {"datum": 22.598, "axis": null},
        "text": {"value": "Date/Time run: 06/21/13 14:14:04"}
      }
    },
    {
      "data": {"values": [{}]},
      "mark": {"type": "text", "align": "right", "baseline": "alphabetic"},
      "encoding": {
        "x": {"datum": 10.0305, "axis": null},
        "y": {"datum": 22.598, "axis": null},
        "text": {"value": "Temperature: 27.0"}
      }
    },
    {
      "data": {"values": [{}]},
      "mark": {"type": "text", "align": "left", "baseline": "alphabetic"},
      "encoding": {
        "x": {"datum": 6.291, "axis": null},
        "y": {"datum": 21.061, "axis": null},
        "text": {"value": "(A) ac.dat (active)"}
      }
    },
    {
      "data": {"values": [{}]},
      "mark": {"type": "text", "align": "left", "baseline": "alphabetic"},
      "encoding": {
        "x": {"datum": 3.4921, "axis": null},
        "y": {"datum": -24.924, "axis": null},
        "text": {"value": "Date: June 21, 2013"}
      }
    },
    {
      "data": {"values": [{}]},
      "mark": {"type": "text", "align": "left", "baseline": "alphabetic"},
      "encoding": {
        "x": {"datum": 6.6025, "axis": null},
        "y": {"datum": -24.924, "axis": null},
        "text": {"value": "Page 1"}
      }
    },
    {
      "data": {"values": [{}]},
      "mark": {"type": "text", "align": "right", "baseline": "alphabetic"},
      "encoding": {
        "x": {"datum": 10.0224, "axis": null},
        "y": {"datum": -24.924, "axis": null},
        "text": {"value": "Time: 14:19:03"}
      }
    }
  ]
}
